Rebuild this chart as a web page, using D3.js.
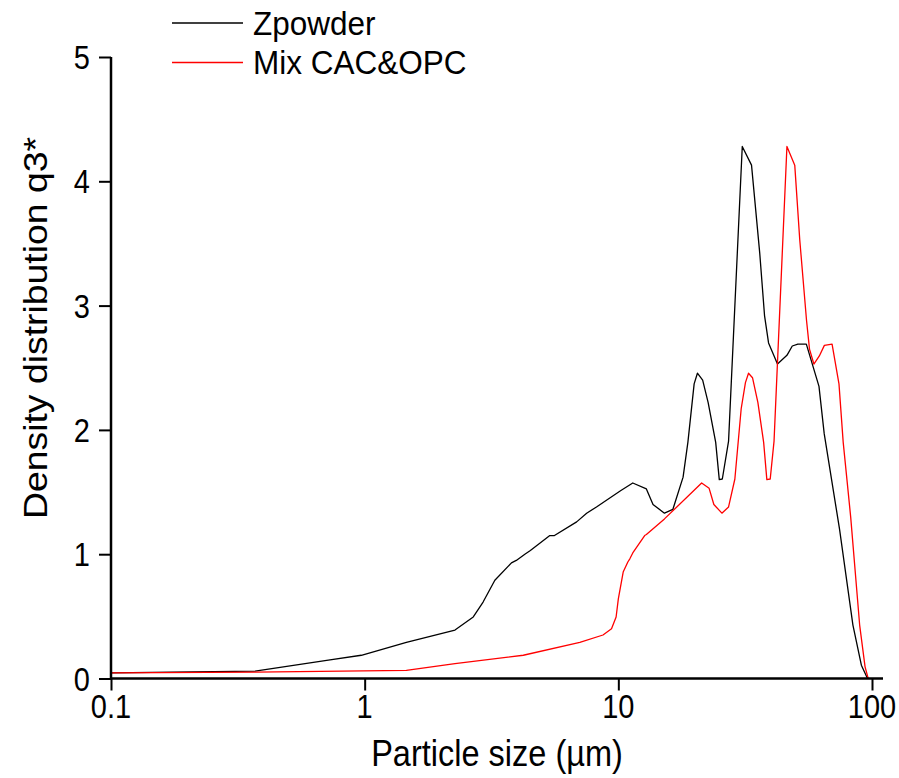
<!DOCTYPE html>
<html>
<head>
<meta charset="utf-8">
<script src="https://cdn.jsdelivr.net/npm/d3@7"></script>
<style>
  body { margin: 0; background: #fff; }
  svg { display: block; font-family: "Liberation Sans", Arial, sans-serif; }
</style>
</head>
<body>
<svg width="899" height="778"></svg>
<script>
// particle size (um) and density q3*
var zpowderSize = [0.1, 0.37, 0.73, 0.97, 1.46, 2.27, 2.68, 2.93, 3.26, 3.79, 3.96, 4.28, 4.5, 5.37, 5.6,
  6.85, 7.5, 8.2, 10.2, 11.4, 12.9, 13.7, 15.2, 16.4, 18.0, 18.8, 19.9, 20.5, 21.5, 22.6, 24.2, 25.0,
  25.7, 27.2, 30.8, 33.5, 36.1, 37.7, 39.1, 42.4, 46.2, 48.5, 51.0, 55.1, 61.8, 64.8, 74.5, 84.1,
  90.8, 95.5, 96.5];
var zpowderQ = [0.045, 0.06, 0.15, 0.187, 0.29, 0.39, 0.495, 0.615, 0.79, 0.93, 0.95, 1.0, 1.03, 1.15, 1.15,
  1.26, 1.33, 1.38, 1.51, 1.573, 1.525, 1.4, 1.33, 1.36, 1.62, 1.9, 2.37, 2.456, 2.4, 2.22, 1.9, 1.6,
  1.605, 1.91, 4.28, 4.13, 3.42, 2.92, 2.7, 2.53, 2.6, 2.675, 2.69, 2.69, 2.35, 1.97, 1.2, 0.43,
  0.107, 0.01, 0];

var mixSize = [0.1, 0.37, 1.46, 2.27, 4.22, 7.05, 8.7, 9.4, 9.8, 10.0, 10.45, 10.9, 11.1, 11.4, 12.7, 12.9,
  15.2, 21.3, 22.8, 23.8, 25.6, 27.2, 28.8, 30.5, 31.7, 32.6, 33.8, 35.5, 37.4, 38.5, 39.7, 41.1,
  46.2, 49.6, 51.9, 55.2, 56.7, 59.0, 62.0, 64.9, 69.6, 74.1, 77.0, 82.4, 89.4, 93.9, 96.6];
var mixQ = [0.045, 0.052, 0.065, 0.12, 0.187, 0.29, 0.35, 0.4, 0.495, 0.64, 0.856, 0.937, 0.963, 1.01, 1.15, 1.158,
  1.284, 1.573, 1.53, 1.4, 1.33, 1.38, 1.605, 2.17, 2.38, 2.456, 2.42, 2.22, 1.9, 1.6, 1.605, 1.91,
  4.28, 4.13, 3.53, 2.88, 2.65, 2.53, 2.595, 2.68, 2.69, 2.37, 1.9, 1.3, 0.43, 0.094, 0];

var seriesNames = ["Zpowder", "Mix CAC&OPC"];
var seriesColors = ["#000", "#ff0000"];
var xMajor = [0.1, 1, 10, 100];
var xLabels = ["0.1", "1", "10", "100"];
var yMajor = [0, 1, 2, 3, 4, 5];

var svg = d3.select("svg"),
  mLeft = 111, mTop = 57, mRight = 883, mBottom = 678.5,
  stretch = 1.15; // text in the source image is a bit taller than wide

var x = d3.scaleLog().domain([0.1, 110.5]).range([mLeft, mRight]);
var y = d3.scaleLinear().domain([0, 5]).range([mBottom, mTop]);

var xMinor = [];
[0.1, 1, 10].forEach(function (d) {
  for (var k = 2; k <= 9; k++) xMinor.push(+(d * k).toPrecision(3));
});
var yMinor = d3.range(0.5, 5, 1);

var series = [
  { name: seriesNames[0], color: seriesColors[0], values: zpowderSize.map(function (s, i) { return [s, zpowderQ[i]]; }) },
  { name: seriesNames[1], color: seriesColors[1], values: mixSize.map(function (s, i) { return [s, mixQ[i]]; }) }
];

var line = d3.line()
  .x(function (d) { return x(d[0]); })
  .y(function (d) { return y(d[1]); });

svg.append("g")
  .selectAll("path")
  .data(series)
  .enter().append("path")
  .attr("fill", "none")
  .attr("stroke", function (d) { return d.color; })
  .attr("stroke-width", 1.3)
  .attr("stroke-linejoin", "round")
  .attr("d", function (d) { return line(d.values); });

// x axis (labels drawn below so they can be stretched)
var gx = svg.append("g").attr("transform", "translate(0," + mBottom + ")");
gx.call(d3.axisBottom(x).tickValues(xMinor).tickSize(6).tickFormat(""));
gx.call(d3.axisBottom(x).tickValues(xMajor).tickSize(12).tickFormat(""));

var gy = svg.append("g").attr("transform", "translate(" + mLeft + ",0)");
gy.call(d3.axisLeft(y).tickValues(yMinor).tickSize(6).tickFormat(""));
gy.call(d3.axisLeft(y).tickValues(yMajor).tickSize(12).tickFormat(""));

svg.selectAll(".domain").remove();
gx.append("path").attr("d", "M" + mLeft + ",0H" + mRight).attr("stroke", "#000").attr("stroke-width", 2.5);
gy.append("path").attr("d", "M0," + mTop + "V" + mBottom).attr("stroke", "#000").attr("stroke-width", 2.5);
svg.selectAll(".tick line").attr("stroke-width", 2);

svg.append("g")
  .selectAll("g")
  .data(xMajor)
  .enter().append("g")
  .attr("transform", function (d) { return "translate(" + x(d) + "," + (mBottom + 15) + ")"; })
  .append("text")
  .attr("transform", "scale(1," + stretch + ")")
  .attr("text-anchor", "middle")
  .attr("dy", "0.72em")
  .attr("font-size", 29)
  .text(function (d, i) { return xLabels[i]; });

svg.append("g")
  .selectAll("g")
  .data(yMajor)
  .enter().append("g")
  .attr("transform", function (d) { return "translate(" + (mLeft - 21) + "," + y(d) + ")"; })
  .append("text")
  .attr("transform", "scale(1," + stretch + ")")
  .attr("text-anchor", "end")
  .attr("dy", "0.36em")
  .attr("font-size", 29)
  .text(function (d) { return d; });

// axis titles
svg.append("text")
  .attr("transform", "translate(" + (mLeft + mRight) / 2 + ",766)scale(1," + stretch + ")")
  .attr("text-anchor", "middle")
  .attr("font-size", 32.5)
  .text("Particle size (\u00b5m)");

svg.append("text")
  .attr("transform", "translate(47,328)rotate(-90)scale(" + stretch + ",1)")
  .attr("text-anchor", "middle")
  .attr("font-size", 32.5)
  .text("Density distribution q3*");

// legend
var legend = svg.append("g")
  .selectAll("g")
  .data(series)
  .enter().append("g")
  .attr("transform", function (d, i) { return "translate(172," + (23 + i * 39.5) + ")"; });

legend.append("line")
  .attr("x2", 71)
  .attr("stroke", function (d) { return d.color; })
  .attr("stroke-width", 1.3);

legend.append("text")
  .attr("x", 81)
  .attr("transform", "scale(1,1.05)")
  .attr("dy", "0.36em")
  .attr("font-size", 31.5)
  .text(function (d) { return d.name; });
</script>
</body>
</html>
